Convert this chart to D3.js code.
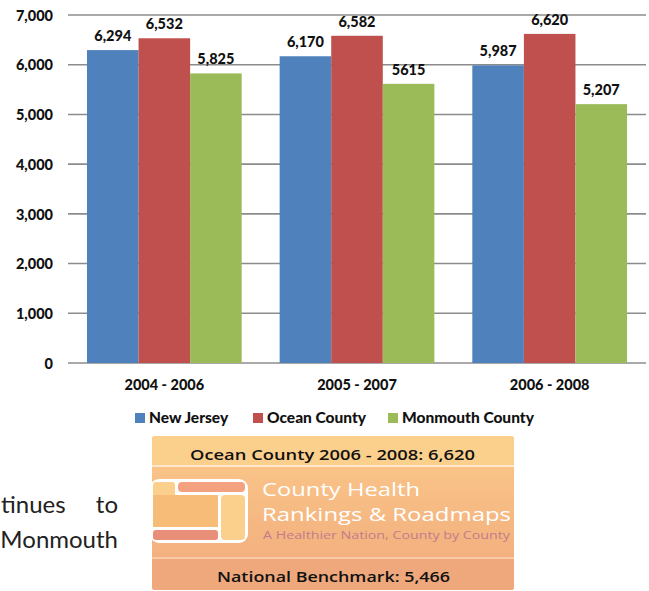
<!DOCTYPE html>
<meta charset="utf-8">
<style>
  body { margin: 0; background: #fff; }
  text { font-family: Lato, "Open Sans", sans-serif; }
</style>
<body>
<div id="chart"></div>
<script src="https://d3js.org/d3.v7.min.js"></script>
<script>

// Data
var periods = ["2004 - 2006", "2005 - 2007", "2006 - 2008"];
var seriesNames = ["New Jersey", "Ocean County", "Monmouth County"];
var newJersey = [6294, 6170, 5987];
var oceanCounty = [6532, 6582, 6620];
var monmouthCounty = [5825, 5615, 5207];
var valueLabels = [["6,294", "6,170", "5,987"],
                   ["6,532", "6,582", "6,620"],
                   ["5,825", "5615", "5,207"]];
var yTicks = [0, 1000, 2000, 3000, 4000, 5000, 6000, 7000];
var colors = ["#4f81bd", "#c0504d", "#9bbb59"];

var rows = [];
[newJersey, oceanCounty, monmouthCounty].forEach(function(s, i) {
  s.forEach(function(v, j) {
    rows.push({series: seriesNames[i], period: periods[j], value: v, label: valueLabels[i][j], si: i});
  });
});

var W = 649, H = 591;
var plot = {left: 68, right: 646, top: 15, bottom: 363};
var fs = 14.5;

var svg = d3.select("#chart").append("svg")
    .attr("width", W)
    .attr("height", H);

var x0 = d3.scaleBand().domain(periods).range([plot.left, plot.right]).paddingInner(0.197).paddingOuter(0.0985);
var x1 = d3.scaleBand().domain(seriesNames).range([0, x0.bandwidth()]);
var y = d3.scaleLinear().domain([0, 7000]).range([plot.bottom, plot.top]);

// gridlines
svg.append("g").selectAll("line")
  .data(yTicks)
  .enter().append("line")
    .attr("x1", plot.left).attr("x2", plot.right)
    .attr("y1", function(d) { return y(d); })
    .attr("y2", function(d) { return y(d); })
    .attr("stroke", "#8c8c8c")
    .attr("stroke-width", 1.6);

// y labels
var yAxis = d3.axisLeft(y).tickValues(yTicks).tickFormat(d3.format(",")).tickSize(0).tickPadding(0);
var yg = svg.append("g").attr("transform", "translate(53,0)").call(yAxis);
yg.select(".domain").remove();
yg.selectAll("text")
  .attr("font-family", "Lato, sans-serif")
  .attr("font-size", fs)
  .attr("font-weight", 900)
  .attr("fill", "#111")
  .attr("dy", "0.36em");

// bars
svg.append("g").selectAll("rect")
  .data(rows)
  .enter().append("rect")
    .attr("x", function(d) { return x0(d.period) + x1(d.series); })
    .attr("y", function(d) { return y(d.value); })
    .attr("width", x1.bandwidth())
    .attr("height", function(d) { return plot.bottom - y(d.value); })
    .attr("fill", function(d) { return colors[d.si]; });

// value labels
svg.append("g").selectAll("text")
  .data(rows)
  .enter().append("text")
    .attr("x", function(d) { return x0(d.period) + x1(d.series) + x1.bandwidth() / 2; })
    .attr("y", function(d) { return y(d.value) - 9; })
    .attr("text-anchor", "middle")
    .attr("font-size", fs)
    .attr("font-weight", 900)
    .attr("fill", "#111")
    .text(function(d) { return d.label; });

// x labels
var xAxis = d3.axisBottom(x0).tickSize(0).tickPadding(0);
var xg = svg.append("g").attr("transform", "translate(0,390)").call(xAxis);
xg.select(".domain").remove();
xg.selectAll("text")
  .attr("font-family", "Lato, sans-serif")
  .attr("font-size", fs)
  .attr("font-weight", 900)
  .attr("fill", "#111")
  .attr("dy", 0);

// legend
var legendX = [135, 253, 388];
var legend = svg.append("g").selectAll("g")
  .data(seriesNames)
  .enter().append("g")
    .attr("transform", function(d, i) { return "translate(" + legendX[i] + ",413)"; });
legend.append("rect").attr("width", 10).attr("height", 10)
  .attr("fill", function(d, i) { return colors[i]; });
legend.append("text").attr("x", 14).attr("y", 10)
  .attr("font-size", 15.5).attr("font-weight", 900).attr("fill", "#111")
  .text(function(d) { return d; });

// body text fragment on the left
var body = svg.append("g").attr("font-size", 24).attr("fill", "#222").style("font-family", "'Open Sans', sans-serif");
body.append("text").attr("x", 1).attr("y", 513).text("tinues");
body.append("text").attr("x", 118).attr("y", 513).attr("text-anchor", "end").text("to");
body.append("text").attr("x", 118).attr("y", 548).attr("text-anchor", "end").text("Monmouth");

// County Health Rankings box
var box = svg.append("g");
var defs = svg.append("defs");
var grad = defs.append("linearGradient").attr("id", "mid").attr("x1", 0).attr("y1", 0).attr("x2", 0).attr("y2", 1);
grad.append("stop").attr("offset", "0%").attr("stop-color", "#fbc98a");
grad.append("stop").attr("offset", "100%").attr("stop-color", "#f1aa7c");

box.append("rect").attr("x", 152).attr("y", 436).attr("width", 362).attr("height", 154).attr("rx", 3).attr("fill", "url(#mid)");
box.append("rect").attr("x", 152).attr("y", 436).attr("width", 362).attr("height", 29).attr("rx", 3).attr("fill", "#fbd08c");
box.append("rect").attr("x", 152).attr("y", 559).attr("width", 362).attr("height", 31).attr("rx", 3).attr("fill", "#eea87c");
box.append("line").attr("x1", 152).attr("x2", 514).attr("y1", 466).attr("y2", 466).attr("stroke", "#fff3e0").attr("stroke-width", 1.5);
box.append("line").attr("x1", 152).attr("x2", 514).attr("y1", 558).attr("y2", 558).attr("stroke", "#fbd5b4").attr("stroke-width", 1.5);

box.append("text").attr("x", 190).attr("y", 460)
  .attr("font-size", 15).attr("font-weight", 600).attr("fill", "#111")
  .attr("textLength", 285).attr("lengthAdjust", "spacingAndGlyphs")
  .style("font-family", "'Open Sans', sans-serif")
  .text("Ocean County 2006 - 2008: 6,620");
box.append("text").attr("x", 217).attr("y", 582)
  .attr("font-size", 15).attr("font-weight", 600).attr("fill", "#111")
  .attr("textLength", 233).attr("lengthAdjust", "spacingAndGlyphs")
  .style("font-family", "'Open Sans', sans-serif")
  .text("National Benchmark: 5,466");

// logo
var logo = box.append("g");
logo.append("rect").attr("x", 150).attr("y", 479).attr("width", 98).attr("height", 64).attr("rx", 9).attr("fill", "#fff");
logo.append("rect").attr("x", 153).attr("y", 482).attr("width", 22).attr("height", 21).attr("rx", 3).attr("fill", "#fbd08c");
logo.append("rect").attr("x", 178).attr("y", 482).attr("width", 67).attr("height", 10).attr("rx", 4).attr("fill", "#f4a17f");
logo.append("rect").attr("x", 153).attr("y", 495).attr("width", 65).attr("height", 32).attr("fill", "#f8bc79");
logo.append("rect").attr("x", 221).attr("y", 495).attr("width", 24).attr("height", 45).attr("rx", 4).attr("fill", "#fbd08c");
logo.append("rect").attr("x", 153).attr("y", 530).attr("width", 65).attr("height", 10).attr("rx", 3).attr("fill", "#e98f79");

box.append("text").attr("x", 262).attr("y", 496).attr("font-size", 18).attr("fill", "#fff")
  .attr("textLength", 158).attr("lengthAdjust", "spacingAndGlyphs")
  .style("font-family", "'Open Sans', sans-serif")
  .text("County Health");
box.append("text").attr("x", 262).attr("y", 521).attr("font-size", 18).attr("fill", "#fff")
  .attr("textLength", 249).attr("lengthAdjust", "spacingAndGlyphs")
  .style("font-family", "'Open Sans', sans-serif")
  .text("Rankings & Roadmaps");
box.append("text").attr("x", 263).attr("y", 539).attr("font-size", 11).attr("fill", "#c27c8c")
  .attr("textLength", 247).attr("lengthAdjust", "spacingAndGlyphs")
  .style("font-family", "'Open Sans', sans-serif")
  .text("A Healthier Nation, County by County");

</script>
</body>
